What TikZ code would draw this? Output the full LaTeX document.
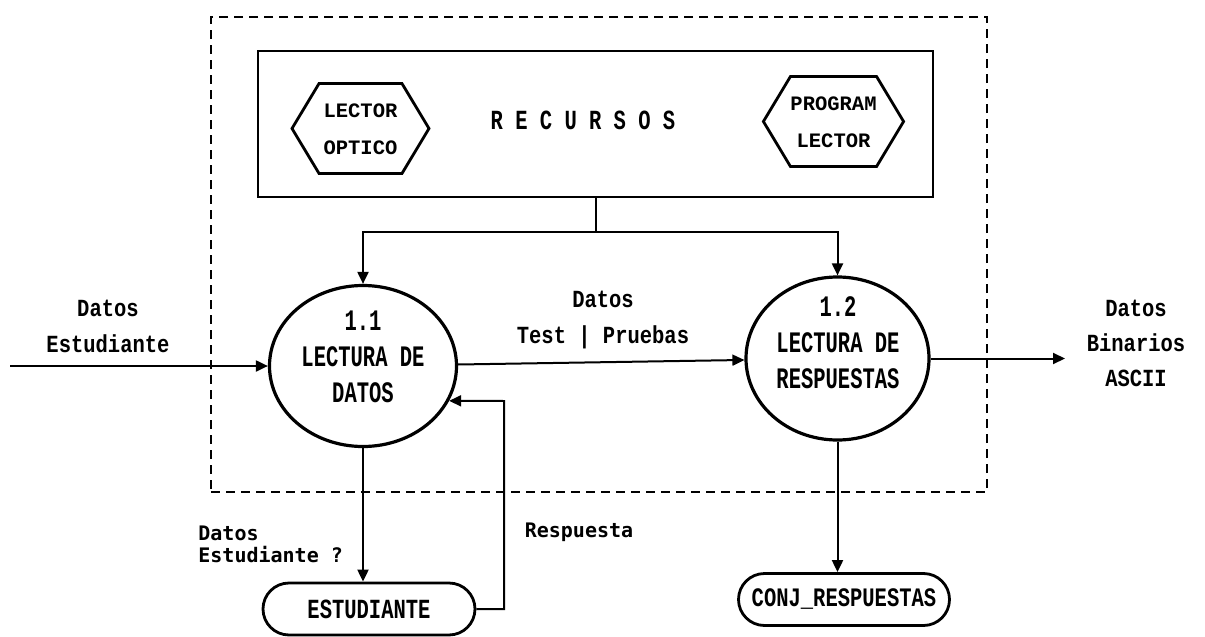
\documentclass[tikz,border=0pt]{standalone}
\usepackage{fontspec}
\usepackage{graphicx}
\usetikzlibrary{arrows.meta,shapes.geometric,shapes.misc,shapes.symbols}
\newfontfamily\printfont{Liberation Mono}
\newfontfamily\termfont{DejaVu Sans Mono}
% centred block of lines, stretched vertically by #1
\newcommand\tallblock[2]{\scalebox{1}[#1]{\begin{tabular}{@{}c@{}}#2\end{tabular}}}
\tikzset{
  conn/.style={line width=1pt},
  arr/.style={conn,-{Triangle[length=6pt,width=5.5pt]}},
  proc/.style={ellipse, draw, line width=1.6pt, inner sep=0pt},
  ptext/.style={inner sep=0pt, font=\printfont\bfseries\fontsize{10.25}{12.4}\selectfont},
  lbl/.style={inner sep=0pt, font=\printfont\bfseries\fontsize{10.25}{14.6}\selectfont},
  term/.style={inner sep=0pt, font=\termfont\bfseries\fontsize{10}{10}\selectfont},
  res/.style={signal, signal to=east and west, signal pointer angle=118, draw,
    line width=1.4pt, inner sep=0pt, minimum width=68.5pt, minimum height=45pt,
    font=\printfont\bfseries\fontsize{10.25}{18.5}\selectfont},
  store/.style={rounded rectangle, draw, line width=1.4pt, inner sep=0pt,
    minimum width=106pt, minimum height=26pt,
    font=\printfont\bfseries\fontsize{10.25}{12}\selectfont},
}
\begin{document}
\begin{tikzpicture}[x=0.5pt, y=-0.5pt]
  \useasboundingbox (0,0) rectangle (1205,637);

  % system boundary
  \node[draw, line width=1pt, dash pattern=on 4.5pt off 3pt, inner sep=0pt,
        minimum width=388pt, minimum height=237.5pt] (bound) at (599,254.5) {};

  % resources box
  \node[draw, line width=0.9pt, inner sep=0pt,
        minimum width=337.5pt, minimum height=73pt] (rec) at (595.5,124) {};
  \node[res] (lo) at (360.5,128.5) {\begin{tabular}{@{}c@{}}LECTOR\\OPTICO\end{tabular}};
  \node[res] (pl) at (833.5,121.5) {\begin{tabular}{@{}c@{}}PROGRAM\\LECTOR\end{tabular}};
  \node[lbl] (rtitle) at (583,120) {\scalebox{1}[1.35]{R E C U R S O S}};

  % processes
  \node[proc, minimum width=93.5pt, minimum height=80.5pt] (p11) at (363,366) {};
  \node[ptext] (t11) at (363,359) {\tallblock{1.45}{1.1\\LECTURA DE\\DATOS}};
  \node[proc, minimum width=91.5pt, minimum height=81.5pt] (p12) at (837.5,358.5) {};
  \node[ptext] (t12) at (838,345) {\tallblock{1.45}{1.2\\LECTURA DE\\RESPUESTAS}};

  % stores
  \node[store] (est) at (369,609) {\scalebox{1}[1.35]{ESTUDIANTE}};
  \node[store, minimum width=105.5pt] (conj) at (844,599.5) {\scalebox{1}[1.3]{CONJ\_RESPUESTAS}};

  % flow labels
  \node[lbl] (lin) at (108,327.5) {\tallblock{1.2}{Datos\\Estudiante}};
  \node[lbl] (ltp) at (603,318.5) {\tallblock{1.2}{Datos\\Test | Pruebas}};
  \node[lbl] (lout) at (1136,344.5) {\tallblock{1.2}{Datos\\Binarios\\ASCII}};
  \node[term, anchor=west] (lq) at (198,547) {\begin{tabular}{@{}l@{}}Datos\\Estudiante ?\end{tabular}};
  \node[term] (lresp) at (579,532) {Respuesta};

  % free ends and bends
  \coordinate (src) at (10,366);
  \coordinate (dst) at (1065,358.5);
  \coordinate (split) at (598,232);
  \coordinate (ret) at (504,401);

  % flows
  \draw[arr] (src) -- (p11.west);
  \draw[arr] (p11) -- (p12);
  \draw[arr] (p12.east) -- (dst);
  \draw[conn] (rec.south) -- (rec.south |- split);
  \draw[arr] (rec.south |- split) -| (p11.north);
  \draw[arr] (rec.south |- split) -| (p12.north);
  \draw[arr] (p11.south) -- (p11.south |- est.north);
  \draw[arr] (est.east) -| (ret) -- (p11.-22.6);
  \draw[arr] (p12.south) -- (p12.south |- conj.north);
\end{tikzpicture}
\end{document}
